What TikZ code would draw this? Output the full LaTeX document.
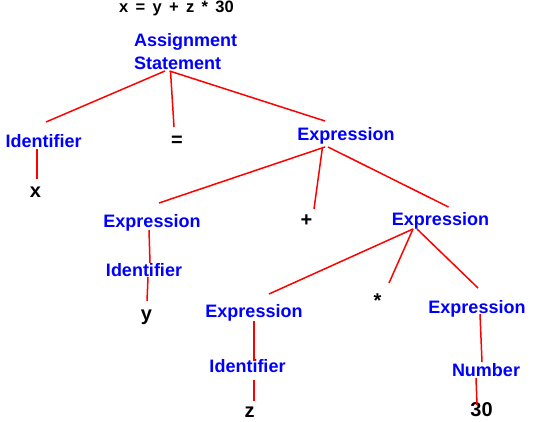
\documentclass[tikz,border=0pt]{standalone}
\usepackage{fontspec}
\setmainfont{Liberation Sans}
\usetikzlibrary{positioning}

\tikzset{
  cat/.style={text=blue,font=\fontsize{18}{23}\selectfont\bfseries,inner sep=0pt},
  tok/.style={text=black,font=\fontsize{20}{24}\selectfont\bfseries,inner sep=0pt},
  branch/.style={red,line width=1.5pt},
}

\begin{document}
\begin{tikzpicture}[x=1pt,y=1pt]
 \useasboundingbox (0,0) rectangle (538,421);
 % sentence
 \node[tok,font=\fontsize{16.5}{20}\selectfont\bfseries,anchor=base] (sent) at (176.5,408) {x\,\ =\ \,y\ \,+\ \,z\ \,*\ \,30};
 % categories
 \node[cat,align=left,anchor=south west] (as) at (134,351) {Assignment\\Statement};
 \node[cat,anchor=base] (idL) at (43.7,273) {Identifier};
 \node[cat,anchor=base] (exprT) at (346,280) {Expression};
 \node[cat,anchor=base] (exprL) at (152,194) {Expression};
 \node[cat,anchor=base] (exprR) at (440.5,196) {Expression};
 \node[cat,anchor=base] (idM) at (144,145) {Identifier};
 \node[cat,anchor=base] (exprBL) at (254,104) {Expression};
 \node[cat,anchor=base] (exprBR) at (477,108) {Expression};
 \node[cat,anchor=base] (idB) at (247.5,49) {Identifier};
 \node[cat,anchor=base] (num) at (486,45) {Number};
 % tokens
 \node[tok] (eq) at (177,280) {=};
 \node[tok] (xL) at (35.5,228.5) {x};
 \node[tok] (plus) at (306.5,200) {+};
 \node[tok] (yL) at (146.5,103.5) {y};
 \node[tok] (star) at (377.5,120) {*};
 \node[tok] (zL) at (249.5,9) {z};
 \node[tok] (thirty) at (481.5,11) {30};
 % branches
 \draw[branch] ([shift={(31,-1)}]as.south west) -- ([shift={(2.3,26)}]idL.base);
 \draw[branch] ([shift={(36.5,-1)}]as.south west) -- ([shift={(-3,14)}]eq.center);
 \draw[branch] ([shift={(35.5,-1)}]as.south west) -- ([shift={(-21,20)}]exprT.base);
 \draw[branch] ([shift={(-6.7,-1)}]idL.base) -- ([shift={(1.5,13.5)}]xL.center);
 \draw[branch] ([shift={(-21,-6)}]exprT.base) -- ([shift={(7,24)}]exprL.base);
 \draw[branch] ([shift={(-23.5,-6)}]exprT.base) -- ([shift={(7.5,12)}]plus.center);
 \draw[branch] ([shift={(-18,-6)}]exprT.base) -- ([shift={(8,18)}]exprR.base);
 \draw[branch] ([shift={(-3,-3)}]exprL.base) -- ([shift={(6,13)}]idM.base);
 \draw[branch] ([shift={(4,-1)}]idM.base) -- ([shift={(0.5,16.5)}]yL.center);
 \draw[branch] ([shift={(-27.5,-4)}]exprR.base) -- ([shift={(15,23)}]exprBL.base);
 \draw[branch] ([shift={(-27.5,-4)}]exprR.base) -- ([shift={(11.5,18)}]star.center);
 \draw[branch] ([shift={(-23.5,-4)}]exprR.base) -- ([shift={(1,25)}]exprBR.base);
 \draw[branch] ([shift={(0,-4)}]exprBL.base) -- ([shift={(6.5,11)}]idB.base);
 \draw[branch] ([shift={(6.5,-8)}]idB.base) -- ([shift={(4.5,11)}]zL.center);
 \draw[branch] ([shift={(3,-1)}]exprBR.base) -- ([shift={(-4,14)}]num.base);
 \draw[branch] ([shift={(-10,-2)}]num.base) -- ([shift={(-4.5,5)}]thirty.center);
\end{tikzpicture}
\end{document}
